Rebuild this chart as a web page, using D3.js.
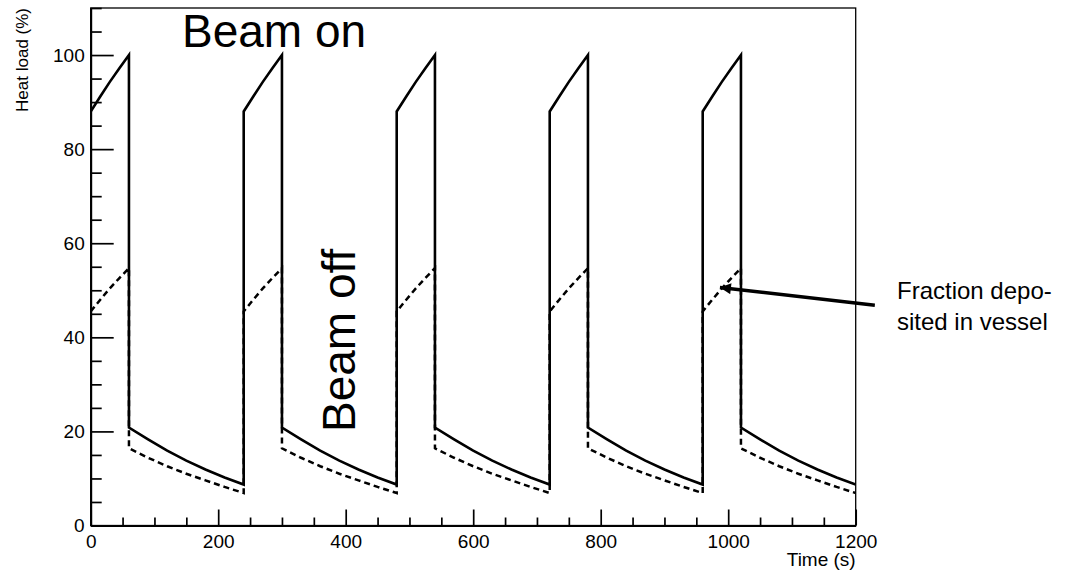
<!DOCTYPE html>
<html>
<head>
<meta charset="utf-8">
<script src="https://cdn.jsdelivr.net/npm/d3@7"></script>
<style>
  body { margin: 0; background: #fff; }
  svg { display: block; font-family: "Liberation Sans", Arial, sans-serif; }
  .axis text { font-size: 19px; fill: #000; }
  .axis line, .axis path { stroke: #000; }
</style>
</head>
<body>
<svg id="chart" width="1087" height="572"></svg>
<script>
// Time samples (s), shared by both curves; repeated t = vertical beam switch
const timeS = [
    0, 15, 30, 45, 60,
    60, 90, 120, 150, 180, 210, 240,
    240, 255, 270, 285, 300,
    300, 330, 360, 390, 420, 450, 480,
    480, 495, 510, 525, 540,
    540, 570, 600, 630, 660, 690, 720,
    720, 735, 750, 765, 780,
    780, 810, 840, 870, 900, 930, 960,
    960, 975, 990, 1005, 1020,
    1020, 1050, 1080, 1110, 1140, 1170, 1200
];
// Total heat load (%) - solid line
const heatTotal = [
    88, 91.2, 94.3, 97.2, 100,
    20.8, 18.3, 15.9, 13.8, 11.9, 10.2, 8.7,
    88, 91.2, 94.3, 97.2, 100,
    20.8, 18.3, 15.9, 13.8, 11.9, 10.2, 8.7,
    88, 91.2, 94.3, 97.2, 100,
    20.8, 18.3, 15.9, 13.8, 11.9, 10.2, 8.7,
    88, 91.2, 94.3, 97.2, 100,
    20.8, 18.3, 15.9, 13.8, 11.9, 10.2, 8.7,
    88, 91.2, 94.3, 97.2, 100,
    20.8, 18.3, 15.9, 13.8, 11.9, 10.2, 8.7
];
// Fraction deposited in vessel (%) - dashed line
const heatVessel = [
    45.5, 48, 50.4, 52.6, 54.7,
    16.4, 14.4, 12.6, 11.0, 9.6, 8.2, 6.9,
    45.5, 48, 50.4, 52.6, 54.7,
    16.4, 14.4, 12.6, 11.0, 9.6, 8.2, 6.9,
    45.5, 48, 50.4, 52.6, 54.7,
    16.4, 14.4, 12.6, 11.0, 9.6, 8.2, 6.9,
    45.5, 48, 50.4, 52.6, 54.7,
    16.4, 14.4, 12.6, 11.0, 9.6, 8.2, 6.9,
    45.5, 48, 50.4, 52.6, 54.7,
    16.4, 14.4, 12.6, 11.0, 9.6, 8.2, 6.9
];

const xMajor = [0, 200, 400, 600, 800, 1000, 1200];
const xMinor = d3.range(0, 1201, 50).filter(v => v % 200 !== 0);
const yMajor = [0, 20, 40, 60, 80, 100];
const yMinor = d3.range(0, 111, 5).filter(v => v % 20 !== 0);

// arrow in data coordinates: [from, to]
const arrowPts = [[1230, 46.8], [987, 50.6]];

const svg = d3.select("#chart");
const x = d3.scaleLinear().domain([0, 1200]).range([90.7, 855.7]);
const y = d3.scaleLinear().domain([0, 110]).range([525.5, 8]);

// frame
svg.append("rect")
    .attr("x", x(0)).attr("y", y(110))
    .attr("width", x(1200) - x(0)).attr("height", y(0) - y(110))
    .attr("fill", "none").attr("stroke", "#000").attr("stroke-width", 1.3);

// --- axes (ROOT style: ticks point inwards) ---
const gx = svg.append("g").attr("class", "axis").attr("transform", `translate(0,${y(0)})`);
gx.call(d3.axisBottom(x).tickValues(xMajor).tickSize(-16).tickSizeOuter(0)
    .tickPadding(9.5).tickFormat(d3.format("d")));
svg.append("g").attr("class", "axis").attr("transform", `translate(0,${y(0)})`)
    .call(d3.axisBottom(x).tickValues(xMinor).tickSize(-8).tickFormat(""))
    .select(".domain").remove();

const gy = svg.append("g").attr("class", "axis").attr("transform", `translate(${x(0)},0)`);
gy.call(d3.axisLeft(y).tickValues(yMajor).tickSize(-23).tickSizeOuter(0)
    .tickPadding(6).tickFormat(d3.format("d")));
svg.append("g").attr("class", "axis").attr("transform", `translate(${x(0)},0)`)
    .call(d3.axisLeft(y).tickValues(yMinor).tickSize(-11).tickFormat(""))
    .select(".domain").remove();

svg.selectAll(".axis line").attr("stroke-width", 1.7);
svg.selectAll(".axis .domain").attr("stroke-width", 2);

// axis titles
svg.append("text")
    .attr("x", x(1200)).attr("y", 566)
    .attr("text-anchor", "end").attr("font-size", 19)
    .text("Time (s)");
svg.append("text")
    .attr("transform", `translate(28,${y(110)}) rotate(-90)`)
    .attr("text-anchor", "end").attr("font-size", 17)
    .text("Heat load (%)");

// --- curves ---
const line = d3.line().x(d => x(d[0])).y(d => y(d[1]));
svg.append("clipPath").attr("id", "plotclip")
    .append("rect")
    .attr("x", x(0)).attr("y", y(110))
    .attr("width", x(1200) - x(0)).attr("height", y(0) - y(110));

svg.append("path")
    .datum(timeS.map((t, i) => [t, heatVessel[i]]))
    .attr("d", line)
    .attr("fill", "none").attr("stroke", "#000")
    .attr("stroke-width", 2.5).attr("stroke-dasharray", "6,4")
    .attr("clip-path", "url(#plotclip)");

svg.append("path")
    .datum(timeS.map((t, i) => [t, heatTotal[i]]))
    .attr("d", line)
    .attr("fill", "none").attr("stroke", "#000")
    .attr("stroke-width", 2.6)
    .attr("stroke-linejoin", "miter")
    .attr("clip-path", "url(#plotclip)");

// --- annotations ---
svg.append("text")
    .attr("x", 182).attr("y", 47)
    .attr("font-size", 46)
    .text("Beam on");

svg.append("text")
    .attr("transform", "translate(355,432) rotate(-90)")
    .attr("font-size", 46)
    .text("Beam off");

svg.append("defs").append("marker")
    .attr("id", "arrowhead")
    .attr("viewBox", "0 0 10 10")
    .attr("refX", 10).attr("refY", 5)
    .attr("markerUnits", "userSpaceOnUse")
    .attr("markerWidth", 16).attr("markerHeight", 11)
    .attr("orient", "auto")
    .append("path").attr("d", "M0,0 L10,5 L0,10 Z").attr("fill", "#000");

svg.append("line")
    .attr("x1", x(arrowPts[0][0])).attr("y1", y(arrowPts[0][1]))
    .attr("x2", x(arrowPts[1][0])).attr("y2", y(arrowPts[1][1]))
    .attr("stroke", "#000").attr("stroke-width", 3.5)
    .attr("marker-end", "url(#arrowhead)");

const note = svg.append("text").attr("font-size", 24);
note.append("tspan").attr("x", 897).attr("y", 299).text("Fraction depo-");
note.append("tspan").attr("x", 897).attr("y", 330).text("sited in vessel");
</script>
</body>
</html>
